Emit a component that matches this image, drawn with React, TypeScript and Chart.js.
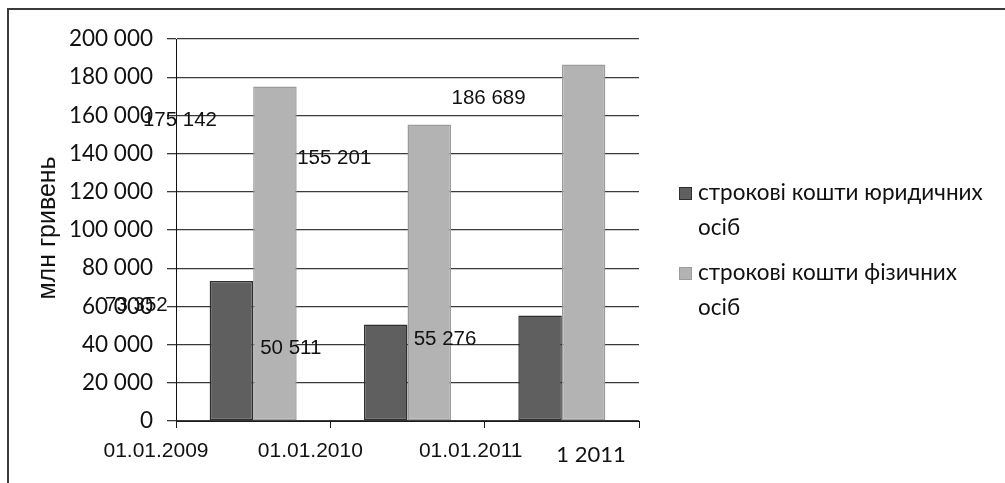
import React, { useEffect, useRef } from 'react';
import { Chart, registerables } from 'chart.js';

Chart.register(...registerables);

const categories = ['01.01.2009', '01.01.2010', '01.01.2011'];
const axisLabels = ['01.01.2009', '01.01.2010', '01.01.2011', '1 2011'];
const legalEntities = [73352, 50511, 55276];
const individuals = [175142, 155201, 186689];
const seriesNames = ['строкові кошти юридичних осіб', 'строкові кошти фізичних осіб'];
const seriesColors = ['#5f5f5f', '#b3b3b3'];
const seriesBorders = ['#2e2e2e', '#9c9c9c'];
const yTitle = 'млн гривень';
const yMin = 0;
const yMax = 200000;
const yStep = 20000;

const fmt = (v: number) => String(Math.round(v)).replace(/\B(?=(\d{3})+(?!\d))/g, ' ');

const ARIAL = '"Liberation Sans", Arial, sans-serif';
const CALIBRI = 'Lato, "Noto Sans", sans-serif';
const TEXT = '#111111';

const framePlugin = {
  id: 'frame',
  beforeDraw(chart: any) {
    const ctx = chart.ctx;
    ctx.save();
    ctx.strokeStyle = '#3a3a3a';
    ctx.lineWidth = 2;
    ctx.beginPath();
    ctx.moveTo(8, chart.height);
    ctx.lineTo(8, 9);
    ctx.lineTo(chart.width, 9);
    ctx.stroke();
    ctx.restore();
  },
};

const yTitlePlugin = {
  id: 'yTitle',
  afterDraw(chart: any) {
    const ctx = chart.ctx;
    const area = chart.chartArea;
    ctx.save();
    ctx.translate(area.left - 128, (area.top + area.bottom) / 2 - 2);
    ctx.rotate(-Math.PI / 2);
    ctx.font = `25px ${ARIAL}`;
    ctx.fillStyle = TEXT;
    ctx.textAlign = 'center';
    ctx.textBaseline = 'middle';
    ctx.fillText(yTitle, 0, 0);
    ctx.restore();
  },
};

const valueLabelsPlugin = {
  id: 'valueLabels',
  afterDatasetsDraw(chart: any) {
    const ctx = chart.ctx;
    const dy = [24, 34];
    ctx.save();
    ctx.font = `20.5px ${ARIAL}`;
    ctx.fillStyle = TEXT;
    ctx.textAlign = 'center';
    ctx.textBaseline = 'middle';
    chart.data.datasets.forEach((ds: any, di: number) => {
      const meta = chart.getDatasetMeta(di);
      meta.data.forEach((el: any, i: number) => {
        ctx.fillText(fmt(ds.data[i]), el.x - 95, el.y + dy[di]);
      });
    });
    ctx.restore();
  },
};

const axisLabelsPlugin = {
  id: 'axisLabels',
  afterDraw(chart: any) {
    const ctx = chart.ctx;
    const xs = chart.scales.x;
    const w = (xs.right - xs.left) / categories.length;
    const shifts = [-20, -20, -14, -48];
    ctx.save();
    ctx.fillStyle = TEXT;
    ctx.textAlign = 'center';
    ctx.textBaseline = 'middle';
    axisLabels.forEach((lab, i) => {
      const last = i === axisLabels.length - 1;
      ctx.font = last ? `22px ${CALIBRI}` : `21px ${ARIAL}`;
      ctx.fillText(lab, xs.left + i * w + shifts[i], xs.top + (last ? 34 : 30));
    });
    ctx.restore();
  },
};

const legendPlugin = {
  id: 'customLegend',
  afterDraw(chart: any) {
    const ctx = chart.ctx;
    const area = chart.chartArea;
    const markerX = area.right + 40;
    const textX = markerX + 19;
    const maxW = 296;
    const lineH = 35;
    let y = area.top + 154;
    ctx.save();
    ctx.font = `22.5px ${CALIBRI}`;
    ctx.textBaseline = 'middle';
    ctx.textAlign = 'left';
    chart.data.datasets.forEach((ds: any) => {
      const words = String(ds.label).split(' ');
      const lines: string[] = [];
      let cur = '';
      words.forEach((wd) => {
        const t = cur ? cur + ' ' + wd : wd;
        if (cur && ctx.measureText(t).width > maxW) {
          lines.push(cur);
          cur = wd;
        } else cur = t;
      });
      if (cur) lines.push(cur);
      ctx.fillStyle = ds.backgroundColor;
      ctx.strokeStyle = ds.borderColor;
      ctx.lineWidth = 1;
      ctx.fillRect(markerX, y - 6, 13, 13);
      ctx.strokeRect(markerX + 0.5, y - 5.5, 12, 12);
      ctx.fillStyle = TEXT;
      lines.forEach((ln, li) => ctx.fillText(ln, textX, y + li * lineH));
      y += lines.length * lineH + 10;
    });
    ctx.restore();
  },
};

export default function App() {
  const ref = useRef<HTMLCanvasElement>(null);
  useEffect(() => {
    if (!ref.current) return;
    const chart = new Chart(ref.current, {
      type: 'bar',
      data: {
        labels: categories,
        datasets: [legalEntities, individuals].map((d, i) => ({
          label: seriesNames[i],
          data: d,
          backgroundColor: seriesColors[i],
          borderColor: seriesBorders[i],
          borderWidth: 1.5,
          borderSkipped: false,
          categoryPercentage: 0.564,
          barPercentage: 1,
        })),
      },
      options: {
        responsive: false,
        animation: false,
        layout: { padding: { left: 30, right: 366, top: 39, bottom: 0 } },
        plugins: {
          legend: { display: false },
          tooltip: { enabled: false },
          title: { display: false },
        },
        scales: {
          x: {
            offset: true,
            grid: {
              offset: true,
              drawOnChartArea: false,
              drawTicks: true,
              tickLength: 7,
              color: '#1a1a1a',
              lineWidth: 1,
            },
            border: { display: true, color: '#1a1a1a', width: 1 },
            ticks: { display: false },
            afterFit(scale: any) {
              scale.height = 62;
            },
          },
          y: {
            min: yMin,
            max: yMax,
            ticks: {
              stepSize: yStep,
              padding: 14,
              color: TEXT,
              font: { family: CALIBRI, size: 22.5 },
              callback: (v: any) => fmt(Number(v)),
            },
            grid: {
              color: '#3a3a3a',
              lineWidth: 1.3,
              drawTicks: true,
              tickLength: 9,
            },
            border: { display: true, color: '#111', width: 1 },
            title: { display: false },
            afterFit(scale: any) {
              scale.width = 146;
            },
          },
        },
      },
      plugins: [framePlugin, yTitlePlugin, valueLabelsPlugin, axisLabelsPlugin, legendPlugin],
    });
    return () => chart.destroy();
  }, []);
  return (
    <div style={{ position: 'fixed', left: 0, top: 0, width: 1005, height: 483, background: '#fff' }}>
      <canvas ref={ref} width={1005} height={483} style={{ display: 'block' }} />
    </div>
  );
}
